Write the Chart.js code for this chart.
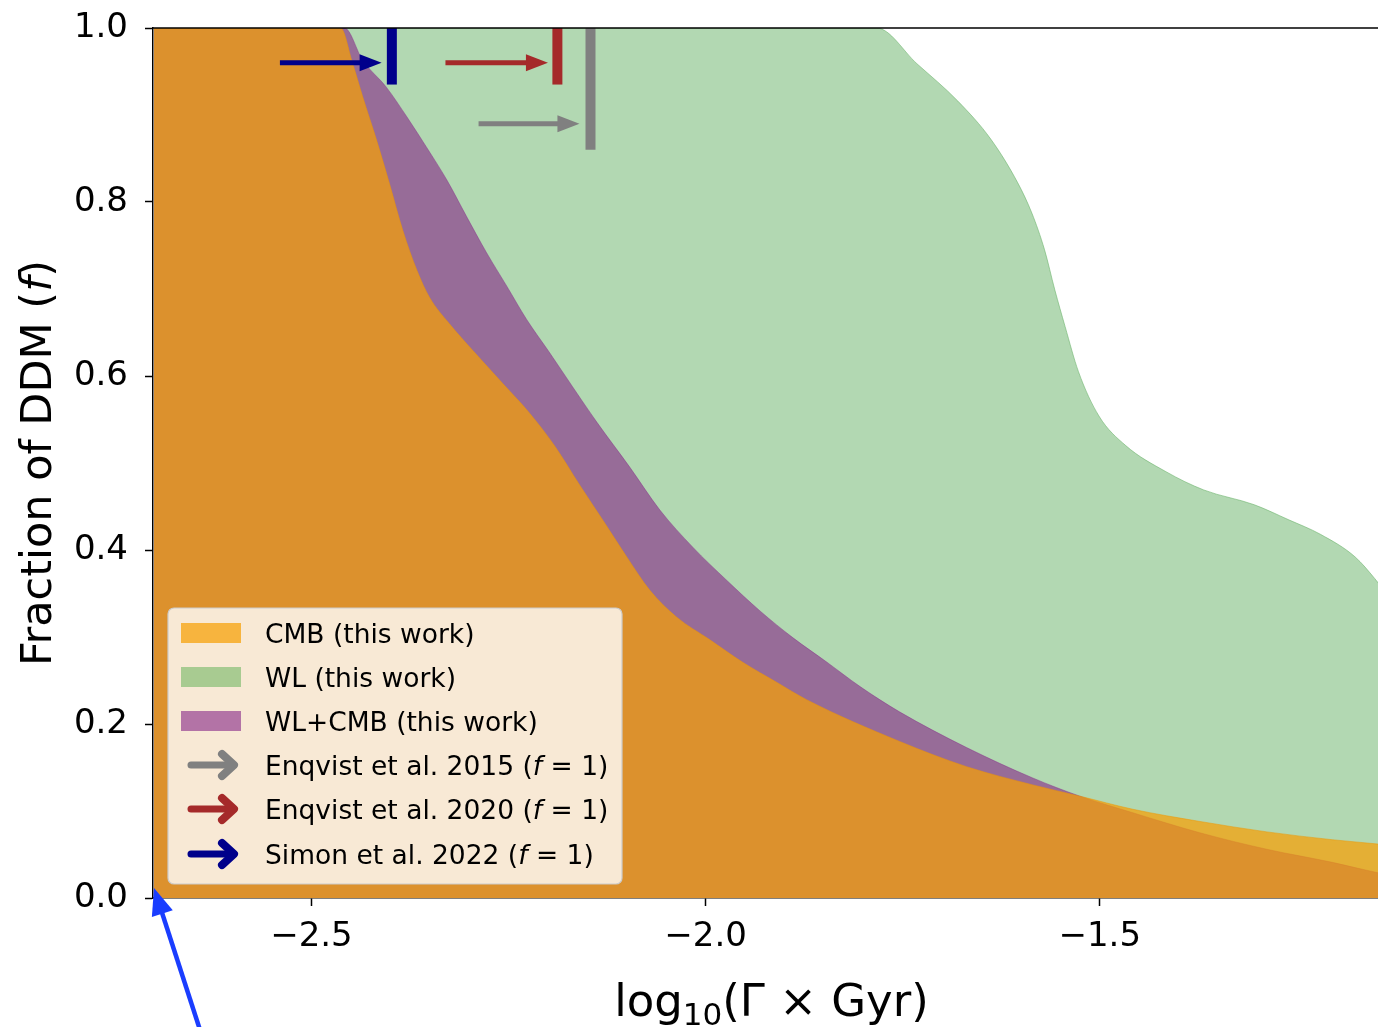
<!DOCTYPE html>
<html>
<head>
<meta charset="utf-8">
<script src="https://cdn.jsdelivr.net/npm/chart.js@4.4.1/dist/chart.umd.min.js"></script>
<style>
  html, body { margin: 0; padding: 0; background: #fff; }
  #wrap { width: 1378px; height: 1027px; }
</style>
</head>
<body>
<div id="wrap"><canvas id="ddm-chart" width="1378" height="1027"></canvas></div>
<script>
// =====================================================================
// DATA  x = log10(Gamma x Gyr), y = fraction of DDM
// =====================================================================
const wlX = [-2.70, -1.783, -1.732, -1.680, -1.638, -1.604, -1.586, -1.570, -1.557, -1.544,
             -1.527, -1.501, -1.467, -1.416, -1.368, -1.304, -1.261, -1.220, -1.176, -1.151, -1.12];
const wlY = [1.0, 1.0, 0.959, 0.916, 0.872, 0.822, 0.787, 0.745, 0.699, 0.657,
             0.605, 0.554, 0.520, 0.490, 0.469, 0.452, 0.435, 0.418, 0.392, 0.367, 0.33];

const cmbX = [-2.70, -2.463, -2.448, -2.435, -2.417, -2.401, -2.384, -2.366, -2.350, -2.325,
              -2.295, -2.257, -2.223, -2.191, -2.160, -2.128, -2.100, -2.071, -2.037, -1.995,
              -1.953, -1.910, -1.872, -1.754, -1.669, -1.585, -1.525, -1.458, -1.373, -1.288,
              -1.205, -1.147, -1.12];
const cmbY = [1.0, 1.0, 0.960, 0.921, 0.870, 0.821, 0.767, 0.721, 0.690, 0.660,
              0.629, 0.591, 0.557, 0.519, 0.475, 0.431, 0.392, 0.354, 0.323, 0.297,
              0.271, 0.248, 0.228, 0.180, 0.151, 0.130, 0.117, 0.102, 0.088, 0.076,
              0.067, 0.062, 0.059];

const combX = [-2.70, -2.458, -2.435, -2.405, -2.379, -2.354, -2.328, -2.303, -2.278, -2.252,
               -2.227, -2.198, -2.169, -2.138, -2.096, -2.058, -2.016, -1.973, -1.931, -1.889,
               -1.846, -1.804, -1.754, -1.669, -1.585, -1.525, -1.458, -1.373, -1.288, -1.205,
               -1.147, -1.12];
const combY = [1.0, 1.0, 0.963, 0.932, 0.898, 0.863, 0.825, 0.783, 0.742, 0.703,
               0.665, 0.627, 0.588, 0.547, 0.495, 0.446, 0.403, 0.365, 0.330, 0.299,
               0.271, 0.243, 0.214, 0.173, 0.138, 0.117, 0.098, 0.075, 0.056, 0.041,
               0.029, 0.025];

const xTicks = [-2.5, -2.0, -1.5];
const yTicks = [0.0, 0.2, 0.4, 0.6, 0.8, 1.0];

// previous limits at f = 1: vertical bar + arrow
const refLabels    = ['Enqvist et al. 2015', 'Enqvist et al. 2020', 'Simon et al. 2022'];
const refColors    = ['#808080', '#a52a2a', '#00008b'];
const refBarX      = [-2.146, -2.188, -2.398];
const refBarLow    = [0.860, 0.935, 0.935];
const refArrowFrom = [-2.288, -2.330, -2.540];
const refArrowTo   = [-2.160, -2.200, -2.411];
const refArrowY    = [0.890, 0.960, 0.960];

const FONT = '"DejaVu Sans", Verdana, sans-serif';
const CMB_FILL  = 'rgba(246, 160, 4, 0.72)';
const COMB_FILL = 'rgba(133, 36, 135, 0.6)';
const WL_FILL   = '#b2d8b2';

const toPts = (xs, ys) => xs.map((v, i) => ({ x: v, y: ys[i] }));

// =====================================================================
// PLUGINS
// =====================================================================
const refMarks = {
    id: 'refMarks',
    afterDatasetsDraw(chart) {
        const { ctx, chartArea: a, scales: { x, y } } = chart;
        ctx.save();
        ctx.beginPath();
        ctx.rect(a.left, a.top, a.right - a.left, a.bottom - a.top);
        ctx.clip();
        refLabels.forEach((_, i) => {
            ctx.strokeStyle = refColors[i];
            ctx.fillStyle = refColors[i];
            ctx.lineCap = 'butt';
            const bx = x.getPixelForValue(refBarX[i]);
            ctx.lineWidth = 10;
            ctx.beginPath();
            ctx.moveTo(bx, y.getPixelForValue(1));
            ctx.lineTo(bx, y.getPixelForValue(refBarLow[i]));
            ctx.stroke();
            const ay = y.getPixelForValue(refArrowY[i]);
            const x0 = x.getPixelForValue(refArrowFrom[i]);
            const x1 = x.getPixelForValue(refArrowTo[i]);
            ctx.lineWidth = 5;
            ctx.beginPath();
            ctx.moveTo(x0, ay);
            ctx.lineTo(x1 - 18, ay);
            ctx.stroke();
            ctx.beginPath();
            ctx.moveTo(x1, ay);
            ctx.lineTo(x1 - 22, ay - 8.5);
            ctx.lineTo(x1 - 22, ay + 8.5);
            ctx.closePath();
            ctx.fill();
        });
        ctx.restore();
    }
};

function drawRuns(ctx, runs, startX, baseY) {
    let cx = startX;
    runs.forEach(r => {
        ctx.font = r.font;
        ctx.fillText(r.text, cx, baseY + (r.dy || 0));
        cx += ctx.measureText(r.text).width;
    });
}
function runsWidth(ctx, runs) {
    return runs.reduce((w, r) => { ctx.font = r.font; return w + ctx.measureText(r.text).width; }, 0);
}

const decorations = {
    id: 'decorations',
    afterDraw(chart) {
        const { ctx, chartArea: a, scales: { x, y } } = chart;
        ctx.save();

        // top spine
        ctx.strokeStyle = '#000';
        ctx.lineWidth = 1.5;
        ctx.beginPath();
        ctx.moveTo(a.left, a.top);
        ctx.lineTo(a.right, a.top);
        ctx.stroke();

        // axis titles
        ctx.fillStyle = '#000';
        ctx.textBaseline = 'alphabetic';
        const big = '45px ' + FONT, sub = '31px ' + FONT;
        const xt = [{ text: 'log', font: big }, { text: '10', font: sub, dy: 9 }, { text: '(Γ × Gyr)', font: big }];
        const cx = (a.left + a.right) / 2 + 6;
        drawRuns(ctx, xt, cx - runsWidth(ctx, xt) / 2, 1016);

        const yb = '43px ' + FONT, yi = 'oblique 43px ' + FONT;
        const yt = [{ text: 'Fraction of DDM (', font: yb }, { text: 'f', font: yi }, { text: ')', font: yb }];
        ctx.save();
        ctx.translate(51, (a.top + a.bottom) / 2);
        ctx.rotate(-Math.PI / 2);
        drawRuns(ctx, yt, -runsWidth(ctx, yt) / 2, 0);
        ctx.restore();

        // legend
        const lx = 168, ly = 608, lw = 454, lh = 276;
        ctx.beginPath();
        ctx.roundRect(lx, ly, lw, lh, 6);
        ctx.fillStyle = 'rgba(255,255,255,0.8)';
        ctx.fill();
        ctx.strokeStyle = '#cccccc';
        ctx.lineWidth = 1.2;
        ctx.stroke();

        const rows = [633, 677, 721, 765, 809, 854];
        const patchColors = [CMB_FILL, '#a8cb91', COMB_FILL];
        const areaLabels = ['CMB (this work)', 'WL (this work)', 'WL+CMB (this work)'];
        const lf = '26.5px ' + FONT, lfi = 'oblique 26.5px ' + FONT;
        areaLabels.forEach((t, i) => {
            ctx.fillStyle = patchColors[i];
            ctx.fillRect(181, rows[i] - 10, 60, 20);
            ctx.fillStyle = '#000';
            ctx.font = lf;
            ctx.fillText(t, 265, rows[i] + 10);
        });
        refLabels.forEach((t, i) => {
            const ry = rows[3 + i];
            ctx.strokeStyle = refColors[i];
            ctx.lineCap = 'round';
            ctx.lineJoin = 'round';
            ctx.lineWidth = 7;
            ctx.beginPath();
            ctx.moveTo(191, ry);
            ctx.lineTo(232, ry);
            ctx.stroke();
            ctx.lineWidth = 8;
            ctx.beginPath();
            ctx.moveTo(222, ry - 11);
            ctx.lineTo(234, ry);
            ctx.lineTo(222, ry + 11);
            ctx.stroke();
            ctx.fillStyle = '#000';
            drawRuns(ctx, [{ text: t + ' (', font: lf }, { text: 'f', font: lfi },
                           { text: ' = 1)', font: lf }], 265, ry + 10);
        });

        // pointer arrow drawn onto the figure, aimed at the origin
        const ox = x.getPixelForValue(x.min), oy = y.getPixelForValue(0);
        const tipX = ox + 1, tipY = oy - 10, tailX = ox + 48, tailY = oy + 135;
        const ang = Math.atan2(tipY - tailY, tipX - tailX);
        ctx.strokeStyle = '#1a3dff';
        ctx.fillStyle = '#1a3dff';
        ctx.lineWidth = 4.5;
        ctx.lineCap = 'butt';
        ctx.beginPath();
        ctx.moveTo(tailX, tailY);
        ctx.lineTo(tipX - Math.cos(ang) * 20, tipY - Math.sin(ang) * 20);
        ctx.stroke();
        ctx.beginPath();
        ctx.moveTo(tipX, tipY);
        ctx.lineTo(tipX - Math.cos(ang) * 27 + Math.sin(ang) * 11, tipY - Math.sin(ang) * 27 - Math.cos(ang) * 11);
        ctx.lineTo(tipX - Math.cos(ang) * 27 - Math.sin(ang) * 11, tipY - Math.sin(ang) * 27 + Math.cos(ang) * 11);
        ctx.closePath();
        ctx.fill();

        ctx.restore();
    }
};

// =====================================================================
// CHART
// =====================================================================
const minusFmt = v => (v < 0 ? '\u2212' : '') + Math.abs(v).toFixed(1);

new Chart(document.getElementById('ddm-chart').getContext('2d'), {
    type: 'line',
    data: {
        datasets: [
            { label: 'CMB (this work)', data: toPts(cmbX, cmbY), order: 1,
              backgroundColor: CMB_FILL, borderColor: 'rgba(240,150,0,0.5)', borderWidth: 1,
              fill: 'origin', pointRadius: 0, cubicInterpolationMode: 'monotone' },
            { label: 'WL+CMB (this work)', data: toPts(combX, combY), order: 2,
              backgroundColor: COMB_FILL, borderColor: 'rgba(133,36,135,0.4)', borderWidth: 1,
              fill: 'origin', pointRadius: 0, cubicInterpolationMode: 'monotone' },
            { label: 'WL (this work)', data: toPts(wlX, wlY), order: 3,
              backgroundColor: WL_FILL, borderColor: 'rgba(110,180,110,0.6)', borderWidth: 1,
              fill: 'origin', pointRadius: 0, cubicInterpolationMode: 'monotone' }
        ]
    },
    options: {
        responsive: false,
        animation: false,
        devicePixelRatio: 1,
        layout: { padding: { top: 28, right: 0, left: 0, bottom: 0 } },
        plugins: { legend: { display: false }, tooltip: { enabled: false } },
        scales: {
            x: {
                type: 'linear', min: -2.701, max: -1.147, z: 1,
                afterBuildTicks: s => { s.ticks = xTicks.map(v => ({ value: v })); },
                afterFit: s => { s.height = 129; s.paddingLeft = 0; s.paddingRight = 0; },
                ticks: { callback: minusFmt, color: '#000', font: { family: FONT, size: 34 }, padding: 11, maxRotation: 0 },
                grid: { drawOnChartArea: false, tickLength: 8, tickWidth: 1.5, tickColor: '#000' },
                border: { display: true, color: '#000', width: 1.5 }
            },
            y: {
                type: 'linear', min: 0, max: 1, z: 1,
                afterBuildTicks: s => { s.ticks = yTicks.map(v => ({ value: v })); },
                afterFit: s => { s.width = 153; s.paddingTop = 0; s.paddingBottom = 0; },
                ticks: { callback: v => v.toFixed(1), color: '#000', font: { family: FONT, size: 34 }, padding: 17 },
                grid: { drawOnChartArea: false, tickLength: 8, tickWidth: 1.5, tickColor: '#000' },
                border: { display: true, color: '#000', width: 1.5 }
            }
        }
    },
    plugins: [refMarks, decorations]
});
</script>
</body>
</html>
